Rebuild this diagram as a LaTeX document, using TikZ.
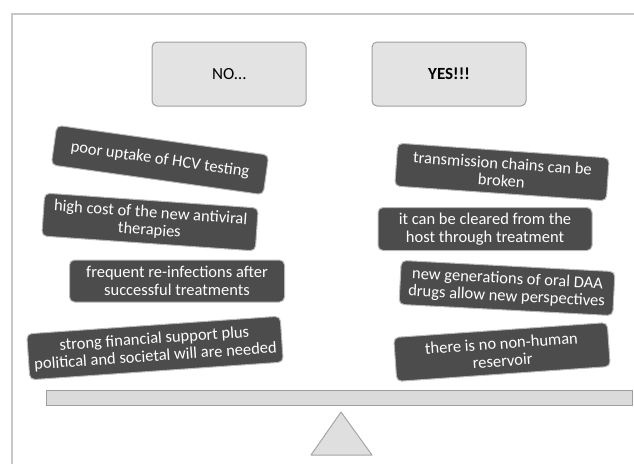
\documentclass[tikz,border=0pt]{standalone}
\usepackage{fontspec}
\setmainfont{Carlito}
\usetikzlibrary{arrows.meta,positioning,calc}
\tikzset{
  hdrblk/.style={draw=gray!75,rectangle,rounded corners=5pt,minimum width=154pt,minimum height=64pt,fill=gray!22,line width=1pt,font=\fontsize{17}{18}\selectfont},
  argblk/.style={draw=gray!55,rectangle,rounded corners=5pt,minimum width=214pt,minimum height=43pt,fill=black!70,line width=1pt,text=white,align=center,inner sep=1pt,font=\fontsize{16.5}{17.5}\selectfont},
  beamblk/.style={draw=gray!75,rectangle,minimum width=586pt,minimum height=15pt,fill=gray!28,line width=1pt},
  pivotshp/.style={draw=gray!70,fill=gray!25,line width=1pt,line join=round},
  frame/.style={gray!45,line width=1.5pt}
}
\begin{document}
\begin{tikzpicture}[x=1pt,y=-1pt]
  \useasboundingbox (0,0) rectangle (634,464);
  % Outer frame
  \draw[frame] (12,464) -- (12,14) -- (634,14);

  % Header boxes
  \node[hdrblk] (nobox) at (229,74) {NO\ldots};
  \node[hdrblk, font=\fontsize{17}{18}\selectfont\bfseries] (yesbox) at (449,74) {YES!!!};

  % Arguments against
  \node[argblk, rotate=-8, minimum height=40pt] (no1) at (160,160) {poor uptake of HCV testing};
  \node[argblk, rotate=-4] (no2) at (150,222) {high cost of the new antiviral\\therapies};
  \node[argblk, minimum width=215pt, minimum height=42pt] (no3) at (177,281) {frequent re-infections after\\successful treatments};
  \node[argblk, rotate=4, minimum width=254pt, minimum height=46pt] (no4) at (155,348) {strong financial support plus\\political and societal will are needed};

  % Arguments for
  \node[argblk, rotate=-4, minimum width=212pt] (yes1) at (502,172) {transmission chains can be\\broken};
  \node[argblk] (yes2) at (485,229) {it can be cleared from the\\host through treatment};
  \node[argblk, rotate=-3, minimum height=44pt] (yes3) at (507,288) {new generations of oral DAA\\drugs allow new perspectives};
  \node[argblk, rotate=4, minimum height=44pt] (yes4) at (502,352) {there is no non-human\\reservoir};

  % Balance beam and pivot
  \node[beamblk] (beam) at (339,398) {};
  \draw[pivotshp] (311,455) -- (341,412) -- (372,455) -- cycle;

\end{tikzpicture}
\end{document}
